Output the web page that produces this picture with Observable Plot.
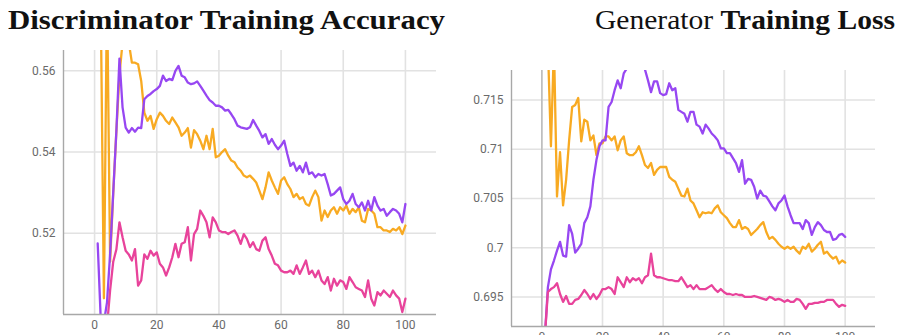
<!DOCTYPE html>
<html>
<head>
<meta charset="utf-8">
<script src="https://cdn.jsdelivr.net/npm/d3@7"></script>
<script src="https://cdn.jsdelivr.net/npm/@observablehq/plot@0.6"></script>
<style>
  html, body { margin: 0; padding: 0; background: #fff; overflow: hidden; }
  #root { position: relative; width: 899px; height: 335px; overflow: hidden; background: #fff; }
  .title { position: absolute; font-family: "Liberation Serif", "DejaVu Serif", serif; color: #111; white-space: nowrap; line-height: 1; transform-origin: 0 0; }
  .panel { position: absolute; }
  .panel svg { overflow: hidden; }
</style>
</head>
<body>
<div id="root"></div>
<script>
// ---------------- data ----------------
const seriesNames = ["run A", "run B", "run C"];
const seriesColors = ["#9747f2", "#f8aa22", "#e8439b"];

// Discriminator training accuracy (x = epoch, values start at the given epoch)
const discPurpleStart = 1;
const discPurple = [
  0.5175, 0.4985, 0.498, 0.503, 0.515, 0.530, 0.545, 0.563, 0.551, 0.546,
  0.5448, 0.5459, 0.545, 0.546, 0.5459, 0.553, 0.5538, 0.5543, 0.555, 0.5555,
  0.5563, 0.5588, 0.5575, 0.558, 0.5577, 0.560, 0.5612, 0.5588, 0.5584, 0.5571,
  0.5567, 0.5569, 0.5574, 0.5563, 0.5551, 0.5539, 0.5528, 0.5522, 0.5514, 0.5514,
  0.551, 0.5502, 0.5504, 0.5493, 0.5481, 0.5465, 0.5461, 0.5459, 0.5457, 0.5461,
  0.5479, 0.5465, 0.5452, 0.5436, 0.5444, 0.542, 0.5432, 0.5418, 0.5407, 0.5416,
  0.5428, 0.5395, 0.5366, 0.5374, 0.5354, 0.5366, 0.535, 0.5374, 0.5346, 0.535,
  0.5338, 0.5346, 0.5342, 0.5346, 0.5321, 0.5293, 0.5297, 0.5305, 0.5313, 0.5284,
  0.5272, 0.528, 0.5297, 0.5272, 0.5264, 0.5276, 0.5256, 0.528, 0.5256, 0.5289,
  0.5268, 0.5256, 0.526, 0.5243, 0.5252, 0.526, 0.5256, 0.5248, 0.5227, 0.5272
];
const discOrangeStart = 1;
const discOrange = [
  0.58, 0.575, 0.504, 0.58, 0.513, 0.53, 0.545, 0.559, 0.567, 0.568,
  0.567, 0.562, 0.562, 0.5616, 0.5575, 0.5497, 0.5477, 0.5489, 0.5457, 0.5481,
  0.5497, 0.5489, 0.5477, 0.5469, 0.5485, 0.5473, 0.5461, 0.544, 0.5448, 0.5459,
  0.5411, 0.5454, 0.5444, 0.5428, 0.5407, 0.544, 0.5407, 0.5457, 0.5387, 0.5391,
  0.54, 0.5407, 0.5391, 0.5379, 0.5375, 0.5362, 0.5354, 0.5342, 0.5338, 0.5342,
  0.5334, 0.5325, 0.5305, 0.5284, 0.5313, 0.535, 0.533, 0.5313, 0.5297, 0.533,
  0.5338, 0.5321, 0.5309, 0.5289, 0.5297, 0.5284, 0.5289, 0.5272, 0.5268, 0.5289,
  0.5305, 0.5289, 0.5231, 0.5256, 0.524, 0.5256, 0.5264, 0.5248, 0.5264, 0.5256,
  0.5268, 0.5248, 0.526, 0.5252, 0.5264, 0.5231, 0.5227, 0.526, 0.5256, 0.5248,
  0.5215, 0.5215, 0.5207, 0.5207, 0.5203, 0.5211, 0.5207, 0.5215, 0.5198, 0.5219
];
const discPinkStart = 4;
const discPink = [
  0.497, 0.506, 0.513, 0.516, 0.5227, 0.519, 0.5157,
  0.5148, 0.5133, 0.5161, 0.5071, 0.5084, 0.5148, 0.5137, 0.5157, 0.5145, 0.5153,
  0.5125, 0.5116, 0.5096, 0.5116, 0.5141, 0.5174, 0.5141, 0.5174, 0.5178, 0.5215,
  0.5133, 0.5198, 0.5211, 0.5256, 0.5243, 0.5227, 0.519, 0.5239, 0.5227, 0.5207,
  0.5203, 0.5203, 0.5198, 0.5203, 0.5207, 0.5194, 0.5174, 0.5198, 0.5186, 0.5166,
  0.5178, 0.5161, 0.5157, 0.5182, 0.519, 0.5161, 0.5145, 0.5125, 0.5121, 0.5108,
  0.5104, 0.5104, 0.5108, 0.51, 0.5121, 0.51, 0.5116, 0.5133, 0.51, 0.5108,
  0.5092, 0.5108, 0.5084, 0.5075, 0.5092, 0.5059, 0.5088, 0.5071, 0.5084, 0.508,
  0.5063, 0.5092, 0.508, 0.5067, 0.5063, 0.5059, 0.5043, 0.5084, 0.5039, 0.5022,
  0.5055, 0.5047, 0.5059, 0.5051, 0.5043, 0.5059, 0.5047, 0.5039, 0.5006, 0.5039
];

// Generator training loss
const genPurpleStart = 1;
const genPurple = [
  0.691, 0.696, 0.6978, 0.6987, 0.6997, 0.7006, 0.6992, 0.6991, 0.7023, 0.7014,
  0.6995, 0.6999, 0.7004, 0.7025, 0.7031, 0.7042, 0.7069, 0.7089, 0.7103, 0.7109,
  0.7109, 0.7143, 0.7148, 0.716, 0.717, 0.7162, 0.7177, 0.7182, 0.7186, 0.719,
  0.7192, 0.7195, 0.719, 0.7181, 0.717, 0.7158, 0.7169, 0.7169, 0.7157, 0.7155,
  0.7156, 0.7167, 0.716, 0.7162, 0.714, 0.7138, 0.7136, 0.7128, 0.7138, 0.7138,
  0.7125, 0.7123, 0.7116, 0.7125, 0.7121, 0.7116, 0.7113, 0.7109, 0.7101, 0.7101,
  0.7096, 0.7096, 0.7091, 0.7086, 0.7077, 0.7089, 0.7065, 0.707, 0.7069, 0.7062,
  0.705, 0.7058, 0.7053, 0.7052, 0.7047, 0.7042, 0.7038, 0.7045, 0.7048, 0.7053,
  0.7042, 0.7033, 0.7025, 0.7025, 0.7025, 0.7019, 0.7028, 0.7025, 0.7013, 0.7021,
  0.7026, 0.7023, 0.7018, 0.7016, 0.7016, 0.7008, 0.7009, 0.7013, 0.7014, 0.7011
];
const genOrangeStart = 2;
const genOrange = [
  0.7205, 0.7103, 0.7205, 0.7052, 0.7097, 0.7043, 0.7069, 0.7109, 0.7143,
  0.7145, 0.7152, 0.7108, 0.713, 0.7128, 0.7109, 0.7114, 0.7094, 0.7106, 0.7106,
  0.7113, 0.7113, 0.7109, 0.7113, 0.7099, 0.7109, 0.7113, 0.7096, 0.7094, 0.7094,
  0.7097, 0.7103, 0.7094, 0.7084, 0.7081, 0.7086, 0.7074, 0.7079, 0.7082, 0.7082,
  0.7082, 0.7072, 0.7069, 0.7067, 0.706, 0.7053, 0.7052, 0.706, 0.7048, 0.7045,
  0.7038, 0.7031, 0.7036, 0.7035, 0.7036, 0.7035, 0.704, 0.7043, 0.7036, 0.7033,
  0.703, 0.7025, 0.7021, 0.7021, 0.7028, 0.7019, 0.7021, 0.7019, 0.7013, 0.7016,
  0.7019, 0.7023, 0.7026, 0.7016, 0.7009, 0.7011, 0.7008, 0.7004, 0.7001, 0.6999,
  0.7001, 0.6999, 0.7001, 0.6997, 0.6994, 0.7001, 0.6999, 0.7004, 0.6996, 0.6999,
  0.7003, 0.7006, 0.6994, 0.6996, 0.6992, 0.6989, 0.6991, 0.6984, 0.6987, 0.6985
];
const genPinkStart = 1;
const genPink = [
  0.691, 0.6955, 0.6958, 0.696, 0.6964, 0.6953, 0.6945, 0.6951, 0.6943, 0.6943,
  0.6947, 0.6948, 0.6952, 0.6957, 0.6953, 0.6948, 0.6953, 0.6948, 0.6952, 0.6958,
  0.6958, 0.696, 0.6958, 0.6953, 0.697, 0.6965, 0.696, 0.697, 0.6965, 0.6969,
  0.6967, 0.6969, 0.6964, 0.697, 0.6972, 0.6994, 0.6972, 0.697, 0.697, 0.6969,
  0.6968, 0.6967, 0.6967, 0.6966, 0.6966, 0.697, 0.6965, 0.696, 0.6962, 0.6958,
  0.6962, 0.6958, 0.6958, 0.6958, 0.696, 0.6962, 0.6958, 0.6955, 0.6958, 0.6955,
  0.6953, 0.6953, 0.6952, 0.6953, 0.6952, 0.6952, 0.695, 0.695, 0.695, 0.6951,
  0.695, 0.6949, 0.6948, 0.6947, 0.695, 0.6949, 0.6947, 0.6948, 0.6947, 0.6945,
  0.6947, 0.6945, 0.6945, 0.6948, 0.6947, 0.6943, 0.6938, 0.6943, 0.6943, 0.6944,
  0.6944, 0.6945, 0.6945, 0.6947, 0.6947, 0.6947, 0.6943, 0.694, 0.6942, 0.6941
];

const xTicks = [0, 20, 40, 60, 80, 100];
const discYTicks = [0.52, 0.54, 0.56];
const genYTicks = [0.695, 0.7, 0.705, 0.71, 0.715];
const xDomain = [-10, 110];
const discYDomain = [0.5, 0.565];
const genYDomain = [0.692, 0.718];

// ---------------- helpers ----------------
function toRows(list) {
  const rows = [];
  for (const [name, start, values] of list) {
    values.forEach((v, i) => rows.push({series: name, epoch: start + i, value: v}));
  }
  return rows;
}
const discRows = toRows([
  [seriesNames[1], discOrangeStart, discOrange],
  [seriesNames[0], discPurpleStart, discPurple],
  [seriesNames[2], discPinkStart, discPink]
]);
const genRows = toRows([
  [seriesNames[1], genOrangeStart, genOrange],
  [seriesNames[0], genPurpleStart, genPurple],
  [seriesNames[2], genPinkStart, genPink]
]);

const fmt = d3.format("~g");
const gridColor = "#e2e2e2";
const axisColor = "#a8a8a8";
const labelColor = "#6a6a6a";

function panel({rows, yDomain, yTicks, width, height, margins, zeroLine}) {
  return Plot.plot({
    width, height,
    marginLeft: margins[3], marginRight: margins[1], marginTop: margins[0], marginBottom: margins[2],
    style: {fontFamily: "Roboto, 'Noto Sans', sans-serif", fontSize: "12px", background: "white", overflow: "hidden"},
    x: {domain: xDomain},
    y: {domain: yDomain},
    color: {domain: seriesNames, range: seriesColors},
    marks: [
      Plot.gridY(yTicks, {stroke: gridColor, strokeOpacity: 1, strokeWidth: 1.6}),
      Plot.gridX(xTicks, {stroke: gridColor, strokeOpacity: 1, strokeWidth: 1.6}),
      zeroLine ? Plot.ruleX([0], {stroke: "#bdbdbd", strokeWidth: 1.6}) : null,
      Plot.lineY(rows, {x: "epoch", y: "value", z: "series", stroke: "series", strokeWidth: 2.3, clip: true, curve: "linear"}),
      Plot.ruleX([xDomain[0]], {stroke: axisColor, strokeWidth: 1.4}),
      Plot.ruleY([yDomain[0]], {stroke: axisColor, strokeWidth: 1.4}),
      Plot.axisY(yTicks, {tickSize: 0, tickPadding: 8, tickFormat: fmt, fill: labelColor, label: null}),
      Plot.axisX(xTicks, {tickSize: 0, tickPadding: 6, tickFormat: fmt, fill: labelColor, label: null})
    ]
  });
}

// ---------------- layout ----------------
const root = document.getElementById("root");

const left = document.createElement("div");
left.className = "panel";
left.style.left = "0px"; left.style.top = "40px";
left.appendChild(panel({rows: discRows, yDomain: discYDomain, yTicks: discYTicks,
  width: 450, height: 295, margins: [10, 14, 21, 63], zeroLine: false}));
root.appendChild(left);

const right = document.createElement("div");
right.className = "panel";
right.style.left = "450px"; right.style.top = "40px";
right.appendChild(panel({rows: genRows, yDomain: genYDomain, yTicks: genYTicks,
  width: 449, height: 310, margins: [30, 24, 24, 61], zeroLine: true}));
root.appendChild(right);

// titles: keep the cap height of the reference and stretch horizontally to its width
function fitTitle(el, targetWidth) {
  root.appendChild(el);
  const w = el.getBoundingClientRect().width;
  el.style.transform = "scaleX(" + (targetWidth / w) + ")";
}
const t1 = document.createElement("div");
t1.className = "title";
t1.style.left = "8px"; t1.style.top = "6px"; t1.style.fontSize = "28px"; t1.style.fontWeight = "bold";
t1.textContent = "Discriminator Training Accuracy";
fitTitle(t1, 437);

const t2 = document.createElement("div");
t2.className = "title";
t2.style.left = "595px"; t2.style.top = "6px"; t2.style.fontSize = "28px";
t2.innerHTML = "Generator <b>Training Loss</b>";
fitTitle(t2, 300);
</script>
</body>
</html>
